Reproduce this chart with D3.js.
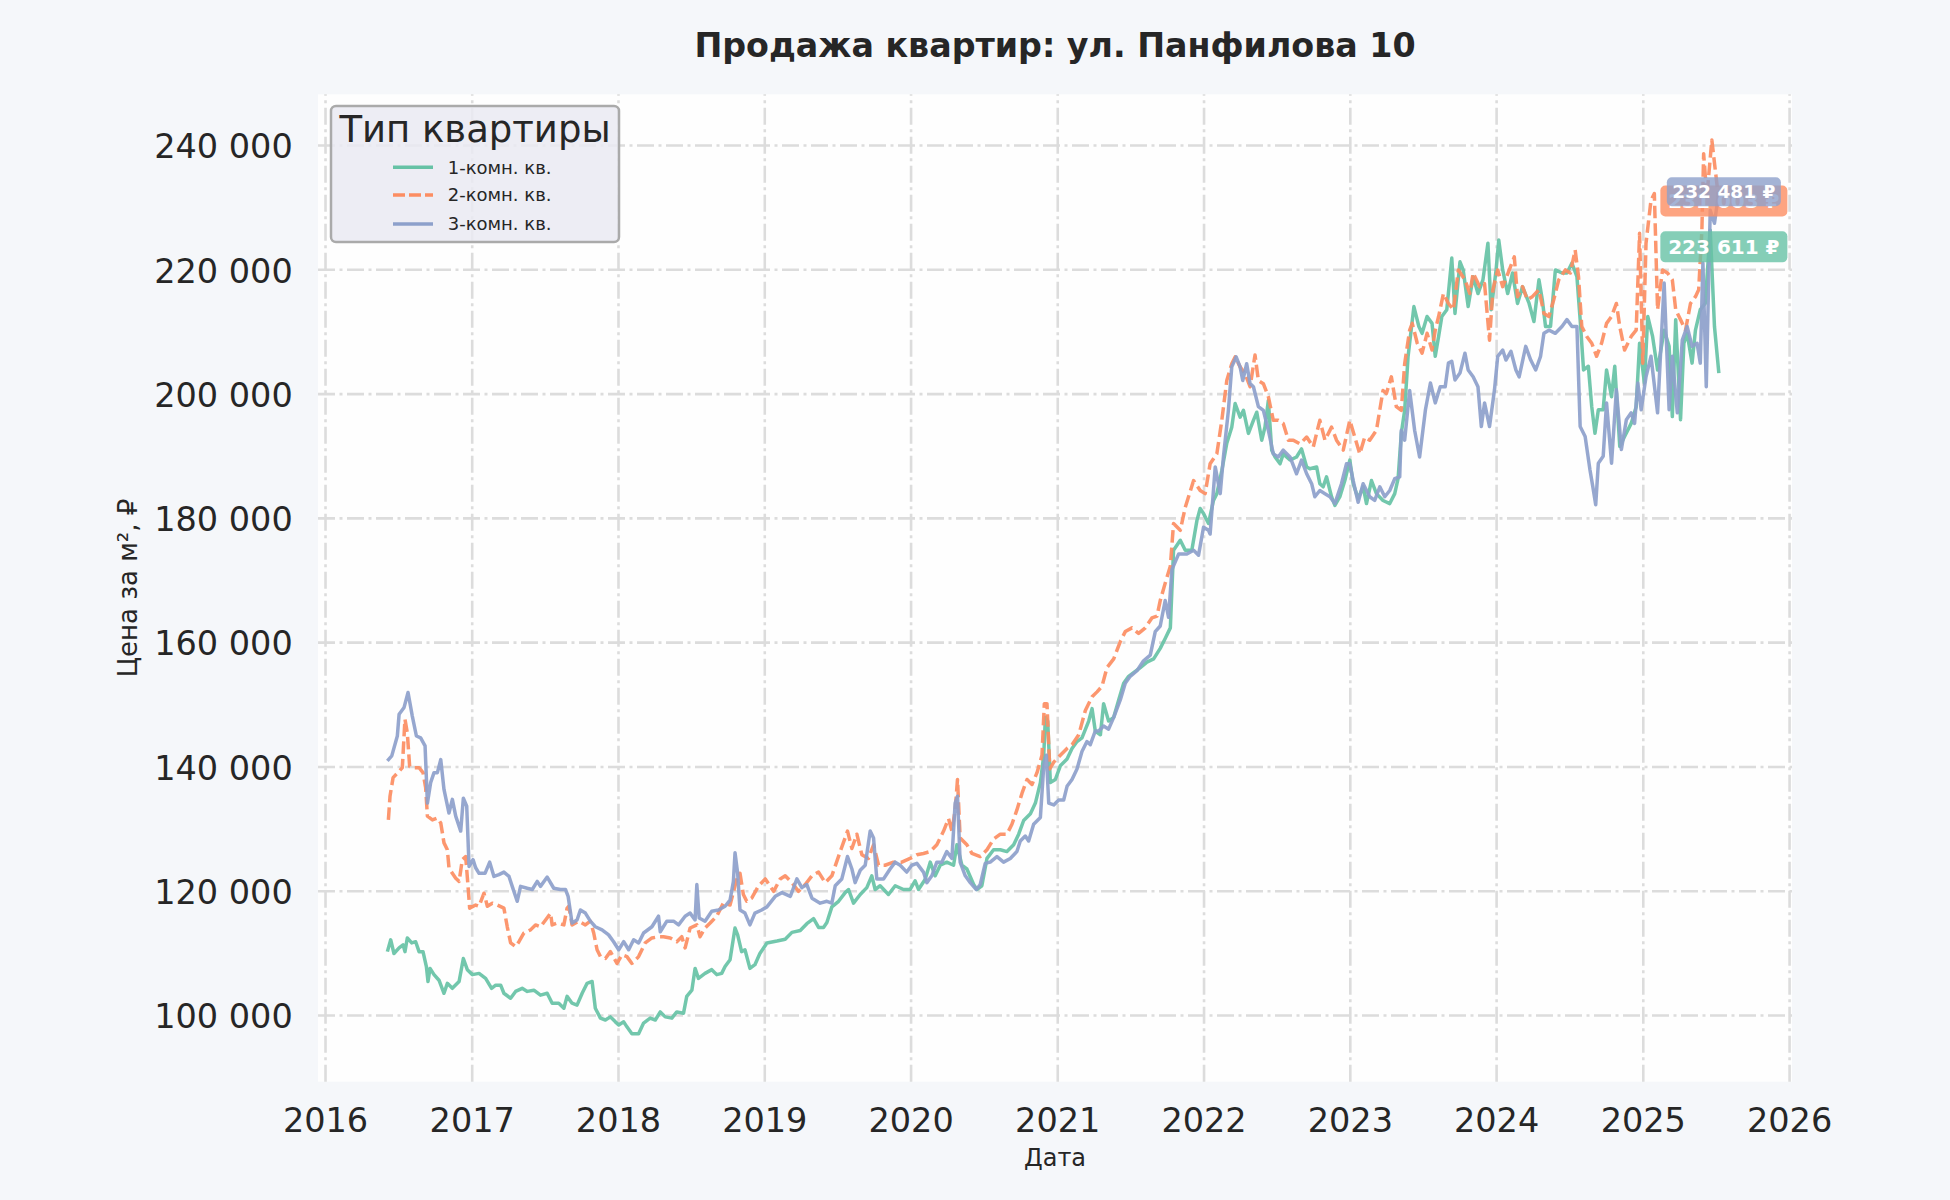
<!DOCTYPE html>
<html><head><meta charset="utf-8">
<script src="https://cdn.jsdelivr.net/npm/d3@7/dist/d3.min.js"></script>
<style>
body{margin:0;background:#f5f7fa;}
svg{display:block;font-family:"DejaVu Sans",sans-serif;}
</style>
</head><body>
<svg id="chart" width="1950" height="1200"></svg>
<script>
// ---- DATA (time as decimal year, price in thousand ₽ per m²) ----
const seriesNames = ["1-комн. кв.", "2-комн. кв.", "3-комн. кв."];
const seriesColors = ["#66c2a5", "#fc8d62", "#8da0cb"];
const chartTitle = "Продажа квартир: ул. Панфилова 10";
const legendTitle = "Тип квартиры";
const xLabel = "Дата";
const yLabel = "Цена за м², ₽";

const oneRoom = [
[2016.425,110.2],[2016.448,112.1],[2016.470,109.9],[2016.505,110.8],[2016.532,111.3],[2016.545,110.2],[2016.561,112.4],[2016.591,111.6],[2016.618,111.8],[2016.641,110.2],[2016.668,110.2],[2016.691,107.8],[2016.702,105.4],[2016.716,107.5],[2016.743,106.5],[2016.777,105.6],[2016.811,103.5],[2016.834,105.1],[2016.868,104.3],[2016.914,105.4],[2016.943,109.1],[2016.970,107.3],[2017.005,106.5],[2017.050,106.7],[2017.095,105.9],[2017.136,104.3],[2017.164,104.8],[2017.198,104.8],[2017.220,103.5],[2017.266,102.7],[2017.300,103.8],[2017.345,104.3],[2017.380,103.8],[2017.425,104.0],[2017.470,103.2],[2017.516,103.5],[2017.550,101.9],[2017.595,101.9],[2017.630,101.1],[2017.652,103.0],[2017.686,101.9],[2017.720,101.6],[2017.755,103.5],[2017.789,105.1],[2017.823,105.4],[2017.845,101.1],[2017.880,99.5],[2017.914,99.2],[2017.948,99.7],[2017.982,98.9],[2018.005,98.4],[2018.039,98.9],[2018.061,98.1],[2018.095,97.0],[2018.141,97.0],[2018.175,98.7],[2018.220,99.5],[2018.255,99.2],[2018.289,100.5],[2018.323,99.7],[2018.368,99.5],[2018.402,100.5],[2018.448,100.3],[2018.470,103.0],[2018.505,104.0],[2018.527,107.5],[2018.550,105.9],[2018.595,106.7],[2018.641,107.3],[2018.675,106.5],[2018.709,106.7],[2018.732,107.8],[2018.766,108.9],[2018.800,114.0],[2018.818,112.9],[2018.845,110.2],[2018.868,110.5],[2018.902,107.5],[2018.936,108.1],[2018.970,109.9],
[2019.018,111.6],[2019.087,111.9],[2019.143,112.2],[2019.189,113.3],[2019.246,113.6],[2019.291,114.7],[2019.337,115.5],[2019.371,114.1],[2019.405,114.1],[2019.428,114.9],[2019.462,117.4],[2019.508,118.3],[2019.553,119.7],[2019.576,120.2],[2019.610,118.0],[2019.656,119.4],[2019.701,120.5],[2019.735,122.4],[2019.758,120.2],[2019.792,120.8],[2019.849,119.4],[2019.895,120.8],[2019.952,120.2],[2019.997,120.2],[2020.031,121.6],[2020.054,120.2],[2020.099,121.8],[2020.134,124.6],[2020.168,122.4],[2020.202,124.1],[2020.247,124.6],[2020.293,124.1],[2020.316,127.4],[2020.350,124.1],[2020.384,123.5],[2020.430,121.0],[2020.452,120.2],[2020.486,120.8],[2020.521,125.2],[2020.566,126.6],[2020.612,126.6],[2020.657,126.3],[2020.703,127.4],[2020.737,129.1],[2020.771,131.3],[2020.817,132.4],[2020.851,134.1],[2020.885,137.4],[2020.908,141.8],[2020.919,147.9],[2020.935,147.3],[2020.953,137.4],[2020.987,137.9],[2021.021,140.1],[2021.067,141.2],[2021.101,142.9],[2021.135,144.0],[2021.169,144.6],[2021.215,147.3],[2021.238,149.3],[2021.260,145.7],[2021.295,145.1],[2021.317,150.1],[2021.351,147.3],[2021.386,147.9],[2021.420,150.7],[2021.454,153.4],[2021.488,154.5],[2021.522,155.1],[2021.568,155.9],[2021.613,156.8],[2021.659,157.3],[2021.704,159.0],[2021.738,160.6],[2021.773,162.3],
[2021.795,174.8],[2021.841,176.4],[2021.875,174.8],[2021.920,174.8],[2021.955,179.6],[2021.977,181.5],[2022.000,180.7],[2022.034,179.1],[2022.068,182.8],[2022.091,183.9],[2022.125,187.6],[2022.159,192.0],[2022.193,194.6],[2022.216,198.4],[2022.250,196.2],[2022.273,197.3],[2022.307,193.6],[2022.341,195.7],[2022.364,197.0],[2022.398,192.5],[2022.420,194.6],[2022.443,198.9],[2022.466,190.9],[2022.489,189.8],[2022.523,188.7],[2022.545,190.3],[2022.591,189.3],[2022.636,189.8],[2022.670,191.1],[2022.705,188.2],[2022.727,187.9],[2022.773,188.2],[2022.795,185.5],[2022.818,185.0],[2022.841,186.6],[2022.875,183.4],[2022.898,182.0],[2022.932,183.4],[2022.966,186.0],[2023.000,189.3],[2023.023,185.5],[2023.057,183.1],[2023.091,185.0],[2023.114,182.3],[2023.148,186.0],[2023.182,183.9],[2023.227,182.8],[2023.273,182.3],[2023.307,183.9],[2023.330,186.3],[2023.352,193.6],[2023.375,197.3],[2023.398,205.9],
[2023.438,214.0],[2023.472,210.8],[2023.494,209.7],[2023.528,212.4],[2023.562,211.3],[2023.584,206.0],[2023.607,209.2],[2023.629,212.4],[2023.663,213.5],[2023.697,221.8],[2023.719,212.9],[2023.753,221.2],[2023.775,219.9],[2023.809,214.0],[2023.843,218.8],[2023.876,216.1],[2023.910,218.3],[2023.944,224.2],[2023.966,213.5],[2024.000,219.9],[2024.018,224.7],[2024.045,219.9],[2024.079,216.1],[2024.112,219.4],[2024.146,214.5],[2024.180,217.2],[2024.225,214.5],[2024.258,211.6],[2024.292,218.3],[2024.315,215.1],[2024.337,210.8],[2024.371,210.8],[2024.404,219.9],[2024.449,219.4],[2024.483,219.4],[2024.517,221.0],[2024.551,218.8],[2024.573,211.9],[2024.596,203.8],[2024.629,204.4],[2024.652,197.9],[2024.674,193.6],[2024.697,197.4],[2024.730,197.4],[2024.753,203.8],[2024.787,199.5],[2024.809,204.4],[2024.843,191.5],[2024.876,193.1],[2024.921,195.2],[2024.955,197.9],[2024.978,208.1],[2025.011,201.7],[2025.034,212.4],[2025.067,209.2],[2025.101,203.8],[2025.146,210.2],[2025.180,207.6],[2025.202,196.3],[2025.225,211.9],[2025.258,195.8],[2025.281,208.1],[2025.303,209.7],[2025.337,204.9],[2025.360,210.2],[2025.393,213.5],[2025.427,214.5],[2025.461,226.3],[2025.490,210.8],[2025.520,203.3]
];

const twoRoom = [
[2016.432,131.4],[2016.443,135.2],[2016.464,138.2],[2016.505,139.2],[2016.527,139.8],[2016.545,147.6],[2016.561,145.4],[2016.577,140.0],[2016.607,139.8],[2016.641,139.8],[2016.668,139.0],[2016.686,136.6],[2016.698,132.0],[2016.732,131.4],[2016.766,131.7],[2016.789,130.9],[2016.811,127.7],[2016.834,126.6],[2016.845,123.7],[2016.868,122.8],[2016.891,122.0],[2016.914,121.5],[2016.936,125.0],[2016.959,125.5],[2016.975,120.7],[2016.986,117.2],[2017.027,117.7],[2017.050,117.5],[2017.084,119.6],[2017.107,117.5],[2017.141,118.0],[2017.175,117.7],[2017.220,117.2],[2017.243,114.2],[2017.266,111.6],[2017.300,111.0],[2017.323,111.8],[2017.357,113.2],[2017.402,113.7],[2017.436,114.5],[2017.470,114.2],[2017.505,115.3],[2017.539,116.4],[2017.550,114.5],[2017.584,114.8],[2017.630,114.5],[2017.652,117.2],[2017.664,117.5],[2017.686,114.5],[2017.732,115.1],[2017.777,114.5],[2017.811,115.1],[2017.834,113.2],[2017.857,110.5],[2017.880,109.4],[2017.914,109.1],[2017.948,110.2],[2017.993,108.3],[2018.027,109.7],[2018.061,109.4],[2018.095,108.3],[2018.141,109.4],[2018.186,111.6],[2018.232,112.4],[2018.277,112.6],[2018.311,112.6],[2018.357,112.4],[2018.402,111.8],[2018.436,112.6],[2018.459,110.8],[2018.493,114.0],[2018.539,114.5],[2018.561,112.6],[2018.595,114.0],[2018.630,114.8],[2018.675,115.9],[2018.720,118.0],[2018.766,117.7],[2018.811,121.8],[2018.834,122.8],[2018.857,119.4],[2018.880,118.3],[2018.914,118.8],[2018.959,120.7],
[2019.007,121.9],[2019.064,119.9],[2019.109,121.9],[2019.143,122.4],[2019.189,121.3],[2019.234,119.9],[2019.280,121.0],[2019.326,122.4],[2019.371,123.0],[2019.417,121.3],[2019.462,122.4],[2019.519,126.3],[2019.569,129.6],[2019.599,126.8],[2019.633,129.1],[2019.667,125.8],[2019.712,125.2],[2019.747,127.4],[2019.781,124.1],[2019.826,124.1],[2019.883,124.6],[2019.940,124.6],[2019.997,125.2],[2020.043,125.8],[2020.088,126.0],[2020.134,126.3],[2020.179,127.4],[2020.225,129.6],[2020.259,131.6],[2020.282,129.6],[2020.304,133.0],[2020.320,137.9],[2020.338,128.5],[2020.384,127.4],[2020.418,126.0],[2020.475,125.5],[2020.521,126.6],[2020.566,128.3],[2020.612,129.1],[2020.657,129.1],[2020.691,130.7],[2020.725,133.0],[2020.760,135.7],[2020.794,137.9],[2020.828,137.1],[2020.862,139.0],[2020.896,141.8],[2020.912,150.1],[2020.930,150.1],[2020.949,139.6],[2020.976,140.7],[2021.021,141.8],[2021.067,142.9],[2021.101,143.5],[2021.147,145.1],[2021.192,149.0],[2021.238,151.2],[2021.272,152.0],[2021.306,152.9],[2021.340,155.9],[2021.386,157.3],[2021.431,160.1],[2021.465,161.7],[2021.511,162.3],[2021.556,161.4],[2021.602,162.3],[2021.647,163.9],[2021.682,164.2],[2021.704,166.7],[2021.738,169.5],[2021.773,172.2],
[2021.795,179.1],[2021.841,178.0],[2021.875,181.7],[2021.932,186.0],[2021.977,184.4],[2022.011,183.9],[2022.045,188.7],[2022.091,190.3],[2022.125,195.7],[2022.159,202.1],[2022.193,204.8],[2022.216,205.9],[2022.250,204.3],[2022.284,203.2],[2022.318,201.1],[2022.352,206.2],[2022.375,202.1],[2022.409,201.6],[2022.443,199.5],[2022.477,195.7],[2022.511,195.7],[2022.545,195.2],[2022.580,192.5],[2022.614,192.5],[2022.659,191.9],[2022.705,193.0],[2022.750,191.4],[2022.795,195.7],[2022.830,192.5],[2022.875,194.6],[2022.909,192.5],[2022.955,190.9],[2023.000,195.7],[2023.034,193.0],[2023.068,190.3],[2023.102,193.0],[2023.136,192.5],[2023.182,194.1],[2023.227,200.5],[2023.250,200.0],[2023.284,202.7],[2023.318,197.9],[2023.352,197.3],[2023.375,204.8],[2023.409,210.2],
[2023.427,211.3],[2023.461,208.1],[2023.494,206.5],[2023.528,209.7],[2023.562,207.0],[2023.584,210.2],[2023.607,212.4],[2023.640,216.1],[2023.674,214.5],[2023.708,213.5],[2023.742,219.9],[2023.787,218.3],[2023.820,216.1],[2023.843,219.4],[2023.888,217.2],[2023.921,217.7],[2023.955,208.6],[2023.978,216.7],[2024.011,219.9],[2024.045,217.2],[2024.090,219.9],[2024.124,222.0],[2024.146,215.6],[2024.180,217.2],[2024.213,215.1],[2024.247,215.6],[2024.292,216.7],[2024.326,212.9],[2024.360,212.4],[2024.393,215.1],[2024.427,218.3],[2024.472,219.9],[2024.506,219.4],[2024.539,223.1],[2024.562,218.8],[2024.584,210.8],[2024.618,209.2],[2024.652,208.1],[2024.685,206.0],[2024.719,208.1],[2024.753,211.3],[2024.787,212.4],[2024.820,214.5],[2024.843,210.8],[2024.876,207.0],[2024.921,209.2],[2024.955,210.2],[2024.978,225.8],[2025.000,204.9],[2025.022,224.2],[2025.056,231.1],[2025.079,232.2],[2025.101,213.5],[2025.135,219.9],[2025.169,219.4],[2025.202,218.3],[2025.225,213.5],[2025.258,211.9],[2025.292,210.2],[2025.326,214.5],[2025.360,215.6],[2025.382,216.7],[2025.404,226.3],[2025.416,238.6],[2025.438,231.7],[2025.472,240.8],[2025.520,231.0]
];

const threeRoom = [
[2016.425,140.9],[2016.455,141.7],[2016.493,144.9],[2016.505,148.4],[2016.539,149.5],[2016.566,151.9],[2016.595,148.1],[2016.623,144.9],[2016.652,144.6],[2016.682,143.3],[2016.698,134.1],[2016.720,137.4],[2016.743,139.0],[2016.766,139.0],[2016.789,141.1],[2016.811,136.3],[2016.845,132.5],[2016.868,134.7],[2016.891,132.0],[2016.925,129.6],[2016.943,134.9],[2016.966,133.6],[2016.982,123.9],[2017.009,125.0],[2017.027,123.7],[2017.050,122.8],[2017.091,122.8],[2017.123,124.6],[2017.152,122.3],[2017.186,122.6],[2017.220,123.0],[2017.255,122.3],[2017.277,120.7],[2017.311,118.3],[2017.334,120.7],[2017.380,120.4],[2017.414,120.2],[2017.448,121.5],[2017.470,120.7],[2017.516,122.2],[2017.561,120.4],[2017.607,120.2],[2017.641,120.2],[2017.659,119.1],[2017.686,114.8],[2017.720,115.3],[2017.743,116.9],[2017.777,116.4],[2017.811,115.1],[2017.845,114.2],[2017.891,113.7],[2017.936,112.9],[2017.970,111.8],[2018.005,110.5],[2018.039,111.8],[2018.073,110.5],[2018.107,112.1],[2018.141,111.6],[2018.175,113.2],[2018.232,114.2],[2018.277,115.9],[2018.289,113.4],[2018.334,115.1],[2018.380,115.1],[2018.414,114.5],[2018.459,115.9],[2018.493,116.4],[2018.527,115.3],[2018.539,121.0],[2018.555,115.6],[2018.595,115.1],[2018.641,116.7],[2018.686,116.9],[2018.732,117.5],[2018.766,118.5],[2018.777,119.9],[2018.789,121.5],[2018.800,126.1],[2018.818,122.8],[2018.834,116.9],[2018.868,116.4],[2018.902,114.5],[2018.936,116.4],[2018.982,116.9],
[2019.018,117.4],[2019.075,119.1],[2019.121,119.7],[2019.178,119.1],[2019.223,121.9],[2019.257,120.5],[2019.291,121.0],[2019.326,118.8],[2019.382,118.0],[2019.428,118.3],[2019.462,118.0],[2019.485,120.8],[2019.530,121.9],[2019.569,125.5],[2019.599,123.5],[2019.621,121.3],[2019.656,123.3],[2019.690,124.1],[2019.724,129.6],[2019.747,128.5],[2019.769,121.9],[2019.815,121.9],[2019.860,123.5],[2019.895,124.6],[2019.929,124.1],[2019.974,123.0],[2020.008,124.1],[2020.043,124.4],[2020.088,123.0],[2020.111,121.3],[2020.145,122.4],[2020.179,124.6],[2020.213,124.6],[2020.247,126.3],[2020.282,125.2],[2020.304,134.1],[2020.320,135.2],[2020.338,124.6],[2020.373,122.4],[2020.407,121.3],[2020.448,120.2],[2020.475,121.0],[2020.509,124.4],[2020.543,124.6],[2020.589,125.5],[2020.634,124.6],[2020.680,125.2],[2020.725,126.3],[2020.748,128.0],[2020.782,128.8],[2020.805,128.0],[2020.839,130.7],[2020.885,131.8],[2020.908,140.1],[2020.926,141.8],[2020.942,134.1],[2020.976,133.8],[2021.010,134.6],[2021.044,134.6],[2021.067,136.8],[2021.101,137.9],[2021.135,139.6],[2021.169,142.4],[2021.203,144.0],[2021.226,143.5],[2021.260,145.7],[2021.283,145.7],[2021.317,146.5],[2021.351,146.0],[2021.386,147.9],[2021.431,150.7],[2021.465,153.4],[2021.499,154.5],[2021.545,155.4],[2021.590,157.0],[2021.636,157.9],[2021.670,161.7],[2021.704,162.6],[2021.738,166.7],[2021.761,164.0],[2021.784,171.7],
[2021.830,174.2],[2021.886,174.2],[2021.932,174.8],[2021.966,174.0],[2022.000,178.5],[2022.034,178.0],[2022.045,177.4],[2022.080,188.2],[2022.114,183.9],[2022.136,189.8],[2022.170,197.3],[2022.193,204.3],[2022.223,205.9],[2022.250,204.3],[2022.268,202.1],[2022.295,204.8],[2022.318,201.6],[2022.341,201.1],[2022.375,197.9],[2022.409,197.3],[2022.443,194.1],[2022.477,190.3],[2022.511,189.8],[2022.545,190.9],[2022.591,189.8],[2022.636,187.1],[2022.670,189.3],[2022.705,187.1],[2022.739,185.5],[2022.761,183.4],[2022.795,184.4],[2022.830,183.9],[2022.864,183.4],[2022.898,182.3],[2022.943,185.5],[2022.977,188.7],[2023.000,188.7],[2023.023,186.0],[2023.057,182.5],[2023.091,185.5],[2023.136,183.4],[2023.170,182.8],[2023.205,185.0],[2023.239,183.4],[2023.273,184.4],[2023.307,186.3],[2023.341,186.6],[2023.352,194.1],[2023.375,192.5],[2023.409,200.5],[2023.443,194.1],[2023.477,189.8],
[2023.517,197.4],[2023.551,201.7],[2023.584,198.5],[2023.618,201.1],[2023.652,201.1],[2023.674,204.9],[2023.697,205.2],[2023.719,202.2],[2023.753,203.3],[2023.787,206.5],[2023.809,203.8],[2023.843,202.7],[2023.876,201.1],[2023.899,194.7],[2023.921,198.5],[2023.955,194.7],[2023.989,200.6],[2024.011,206.0],[2024.045,207.0],[2024.067,205.4],[2024.101,206.8],[2024.135,203.8],[2024.157,202.7],[2024.202,207.6],[2024.236,205.4],[2024.270,203.8],[2024.303,206.0],[2024.326,209.7],[2024.360,210.2],[2024.404,209.7],[2024.449,210.8],[2024.483,211.9],[2024.517,210.8],[2024.551,210.8],[2024.573,194.7],[2024.607,193.1],[2024.640,187.7],[2024.663,184.5],[2024.679,182.1],[2024.697,188.8],[2024.730,189.9],[2024.753,198.5],[2024.787,188.8],[2024.820,200.6],[2024.854,191.0],[2024.888,195.8],[2024.921,196.9],[2024.944,195.2],[2024.966,201.7],[2024.989,197.4],[2025.022,202.7],[2025.056,206.0],[2025.101,196.9],[2025.146,217.8],[2025.180,197.4],[2025.202,206.0],[2025.236,196.9],[2025.270,208.6],[2025.303,210.8],[2025.337,207.6],[2025.371,208.1],[2025.393,204.9],[2025.411,221.0],[2025.434,201.1],[2025.461,229.5],[2025.490,227.4],[2025.520,232.5]
];

const lastLabels = [223611, 231003, 232481];
const yTicks = [100000, 120000, 140000, 160000, 180000, 200000, 220000, 240000];
const xTickYears = [2016, 2017, 2018, 2019, 2020, 2021, 2022, 2023, 2024, 2025, 2026];

// ---- helpers ----
function yearToDate(t) {
  const y = Math.floor(t);
  const s = Date.UTC(y, 0, 1), e = Date.UTC(y + 1, 0, 1);
  return new Date(s + (t - y) * (e - s));
}
const fmtNum = v => d3.format(",")(v).replace(/,/g, " ");

// ---- layout ----
const svg = d3.select("#chart");
const L = 318, R = 1792, T = 94.3, B = 1081.7;
const x = d3.scaleUtc().domain([yearToDate(2015.952), yearToDate(2026.02)]).range([L, R]);
const y = d3.scaleLinear().domain([89270, 248160]).range([B, T]);

svg.append("rect").attr("width", 1950).attr("height", 1200).attr("fill", "#f5f7fa");
svg.append("rect").attr("x", L).attr("y", T).attr("width", R - L).attr("height", B - T).attr("fill", "#fefefe");

// grid
const gridDash = "17,4.5,3,4.5";
const gx = svg.append("g").attr("transform", `translate(0,${B})`)
  .call(d3.axisBottom(x).tickValues(xTickYears.map(yearToDate)).tickSize(-(B - T)).tickFormat(""));
gx.select(".domain").remove();
gx.selectAll("line").attr("stroke", "#dcdcdc").attr("stroke-width", 2.6).attr("stroke-dasharray", gridDash);
const gy = svg.append("g").attr("transform", `translate(${L},0)`)
  .call(d3.axisLeft(y).tickValues(yTicks).tickSize(-(R - L)).tickFormat(""));
gy.select(".domain").remove();
gy.selectAll("line").attr("stroke", "#dcdcdc").attr("stroke-width", 2.6).attr("stroke-dasharray", gridDash);

// axes labels
const ax = svg.append("g").attr("transform", `translate(0,${B})`)
  .call(d3.axisBottom(x).tickValues(xTickYears.map(yearToDate)).tickSize(0).tickPadding(26.6).tickFormat(d3.utcFormat("%Y")));
ax.select(".domain").remove();
ax.selectAll("text").attr("font-family", "DejaVu Sans").attr("font-size", 33.5).attr("fill", "#262626");
const ay = svg.append("g").attr("transform", `translate(${L},0)`)
  .call(d3.axisLeft(y).tickValues(yTicks).tickSize(0).tickPadding(25.3).tickFormat(fmtNum));
ay.select(".domain").remove();
ay.selectAll("text").attr("font-family", "DejaVu Sans").attr("font-size", 33.5).attr("fill", "#262626").attr("dy", "0.38em");

// lines
const allSeries = [oneRoom, twoRoom, threeRoom];
const line = d3.line().x(d => x(yearToDate(d[0]))).y(d => y(d[1] * 1000)).curve(d3.curveLinear);
const dashes = [null, "12.5,5", null];
allSeries.forEach((s, i) => {
  svg.append("path").datum(s).attr("d", line)
    .attr("fill", "none").attr("stroke", seriesColors[i]).attr("stroke-width", 3.5)
    .attr("stroke-opacity", 0.92).attr("stroke-linejoin", "round")
    .attr("stroke-dasharray", dashes[i]);
});

// end labels
const boxW = [127, 127, 114], boxH = [31, 31, 29], boxF = [20, 20, 18.5];
allSeries.forEach((s, i) => {
  const last = s[s.length - 1];
  const cx = x(yearToDate(last[0])) + 5;
  const cy = y(lastLabels[i]);
  svg.append("rect").attr("x", cx - boxW[i] / 2).attr("y", cy - boxH[i] / 2)
    .attr("width", boxW[i]).attr("height", boxH[i]).attr("rx", 5)
    .attr("fill", seriesColors[i]).attr("fill-opacity", 0.8);
  svg.append("text").attr("x", cx).attr("y", cy).attr("dy", "0.36em")
    .attr("text-anchor", "middle").attr("font-size", boxF[i]).attr("font-weight", "bold")
    .attr("fill", "#ffffff").text(fmtNum(lastLabels[i]) + " ₽");
});

// legend
const lg = svg.append("g");
lg.append("rect").attr("x", 331).attr("y", 106).attr("width", 288).attr("height", 136).attr("rx", 5)
  .attr("fill", "#eaeaf2").attr("fill-opacity", 0.85).attr("stroke", "#aaaaaa").attr("stroke-width", 2.5);
lg.append("text").attr("x", 475).attr("y", 141.5).attr("text-anchor", "middle")
  .attr("font-size", 37).attr("fill", "#262626").text(legendTitle);
const legY = [167.3, 195, 224];
seriesNames.forEach((n, i) => {
  lg.append("line").attr("x1", 393).attr("x2", 433).attr("y1", legY[i]).attr("y2", legY[i])
    .attr("stroke", seriesColors[i]).attr("stroke-width", 3.5).attr("stroke-dasharray", dashes[i] ? "12,4" : null);
  lg.append("text").attr("x", 447.7).attr("y", legY[i]).attr("dy", "0.36em")
    .attr("font-size", 18).attr("fill", "#262626").text(n);
});

// titles
svg.append("text").attr("x", (L + R) / 2).attr("y", 57).attr("text-anchor", "middle")
  .attr("font-size", 33.3).attr("font-weight", "bold").attr("fill", "#262626").text(chartTitle);
svg.append("text").attr("x", (L + R) / 2).attr("y", 1166).attr("text-anchor", "middle")
  .attr("font-size", 24).attr("fill", "#262626").text(xLabel);
svg.append("text").attr("transform", "translate(137,588) rotate(-90)").attr("text-anchor", "middle")
  .attr("font-size", 26).attr("fill", "#262626").text(yLabel);
</script>
</body></html>
